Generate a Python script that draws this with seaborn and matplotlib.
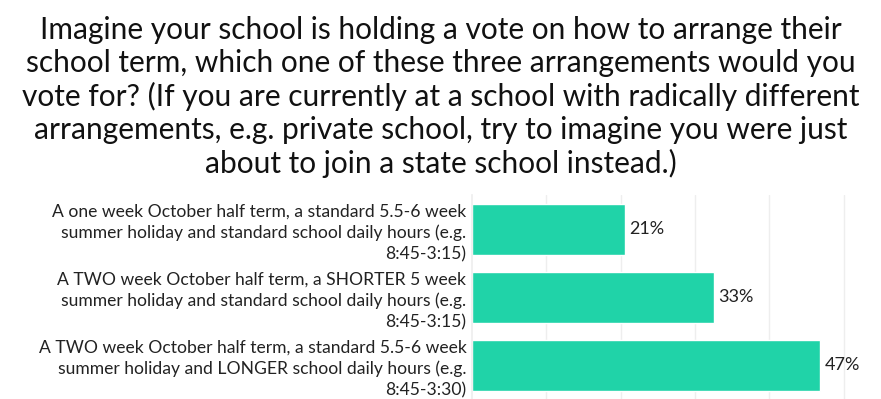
import matplotlib
matplotlib.use("Agg")
import matplotlib.pyplot as plt
import seaborn as sns
import pandas as pd

title = ("Imagine your school is holding a vote on how to arrange their\n"
         "school term, which one of these three arrangements would you\n"
         "vote for? (If you are currently at a school with radically different\n"
         "arrangements, e.g. private school, try to imagine you were just\n"
         "about to join a state school instead.)")

categories = [
    "A one week October half term, a standard 5.5-6 week\nsummer holiday and standard school daily hours (e.g.\n8:45-3:15)",
    "A TWO week October half term, a SHORTER 5 week\nsummer holiday and standard school daily hours (e.g.\n8:45-3:15)",
    "A TWO week October half term, a standard 5.5-6 week\nsummer holiday and LONGER school daily hours (e.g.\n8:45-3:30)",
]
values = [20.6, 32.5, 46.8]
labels = ["21%", "33%", "47%"]

df = pd.DataFrame({"cat": categories, "val": values})

sns.set_theme(style="white")
plt.rcParams["font.family"] = ["Lato", "DejaVu Sans"]

fig = plt.figure(figsize=(8.81, 3.99), dpi=100)
ax = fig.add_axes([472/881, 0, (881-472)/881, 1 - 195/399])

sns.barplot(data=df, x="val", y="cat", color="#20D3A8", saturation=1,
            width=0.75, ax=ax, orient="h")

ax.set_xlim(0, 55)
ax.set_ylim(2.5, -0.5)
ax.set_xticks([10, 20, 30, 40, 50])
ax.xaxis.grid(True, color="#eeeeee", linewidth=1)
ax.set_axisbelow(True)
ax.tick_params(axis="x", bottom=False, labelbottom=False)
ax.tick_params(axis="y", left=False, length=0, pad=4)
for lab in ax.get_yticklabels():
    lab.set_fontsize(12.6)
    lab.set_color("#222222")
    lab.set_ha("right")
    lab.set_multialignment("right")
    lab.set_linespacing(1.38)
ax.set_xlabel("")
ax.set_ylabel("")
for s in ["top", "right", "bottom"]:
    ax.spines[s].set_visible(False)
ax.spines["left"].set_color("#eeeeee")

for i, (v, l) in enumerate(zip(values, labels)):
    ax.text(v + 0.6, i, l, va="center", ha="left", fontsize=13, color="#222222")

fig.text(0.5, 1 - 97/399, title, ha="center", va="center", fontsize=21.5,
         color="#111111", linespacing=1.22)

fig.savefig("out.png", dpi=100)
